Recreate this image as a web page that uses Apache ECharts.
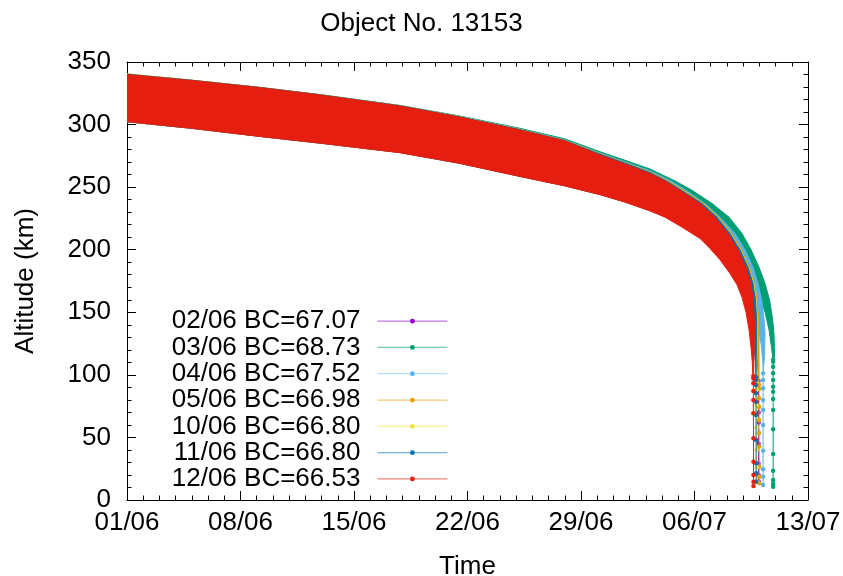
<!DOCTYPE html>
<html>
<head>
<meta charset="utf-8">
<title>Object No. 13153</title>
<script src="https://cdn.jsdelivr.net/npm/echarts@6/dist/echarts.min.js"></script>
<style>
  html, body { margin: 0; padding: 0; background: #ffffff; }
  #chart { width: 843px; height: 576px; }
</style>
</head>
<body>
<div id="chart"></div>
<script>
// Time axis is in days counted from 01/06 00:00.
const xTickLabels = ['01/06', '08/06', '15/06', '22/06', '29/06', '06/07', '13/07'];
const yTickValues = [0, 50, 100, 150, 200, 250, 300, 350];

const runNames = [
  '02/06 BC=67.07',
  '03/06 BC=68.73',
  '04/06 BC=67.52',
  '05/06 BC=66.98',
  '10/06 BC=66.80',
  '11/06 BC=66.80',
  '12/06 BC=66.53'
];
const runColors = ['#9400d3', '#009e73', '#56b4e9', '#e69f00', '#f0e442', '#0072b2', '#e51e10'];

// Apogee (upper) and perigee (lower) envelopes of each run, [day, km],
// followed by the final plunge sampled point by point.
const apogee0206 = [[0, 340.3], [4, 335.4], [8.2, 329.6], [12, 323.6], [16.84, 315.0], [20.5, 306.3], [24.24, 296.2], [27, 287.4], [29.172, 276.7], [30.714, 269.5], [32.256, 262.0], [33.35, 255.0], [34.3, 247.5], [35.53, 237.0], [36.45, 226.0], [37.25, 213.0], [37.87, 200.0], [38.36, 186.0], [38.67, 173.0], [38.83, 160.0], [38.92, 145.0], [38.95, 133.0], [38.95, 115.0], [38.948, 95.0]];
const perigee0206 = [[0, 302.3], [4, 297.0], [8.2, 290.6], [12, 285.1], [16.84, 277.7], [20.5, 269.3], [24.24, 258.7], [27, 251.2], [29.22, 244.0], [30.79, 238.0], [32.36, 231.0], [33.31, 226.0], [34.26, 219.0], [35.52, 209.0], [36.14, 201.0], [36.76, 192.0], [37.39, 181.0], [37.84, 172.0], [38.18, 162.0], [38.45, 150.0], [38.66, 136.0], [38.8, 122.0], [38.9, 110.0], [38.94, 95.0]];
const descent0206 = [[38.948, 95.0], [38.95, 70.0], [38.95, 62.0], [38.95, 45.0], [38.95, 29.0], [38.95, 20.0], [38.95, 15.0]];

const apogee0306 = [[0, 340.1], [4, 335.3], [8.2, 329.7], [12, 323.8], [16.84, 315.3], [20.5, 306.9], [24.24, 297.0], [27, 288.6], [29.172, 278.3], [30.714, 271.5], [32.256, 264.5], [33.798, 255.0], [34.846, 247.5], [36.08, 237.0], [37.128, 226.0], [37.93, 213.0], [38.486, 200.0], [38.979, 186.0], [39.349, 173.0], [39.627, 160.0], [39.812, 145.0], [39.904, 133.0], [39.935, 115.0], [39.88, 112.0]];
const perigee0306 = [[0, 302.3], [4, 297.2], [8.2, 290.9], [12, 285.6], [16.84, 278.3], [20.5, 270.2], [24.24, 260.0], [27, 252.8], [29.481, 244.0], [31.146, 238.0], [32.749, 231.0], [33.736, 226.0], [34.785, 219.0], [36.142, 209.0], [36.82, 201.0], [37.498, 192.0], [38.177, 181.0], [38.671, 172.0], [39.04, 162.0], [39.349, 150.0], [39.596, 136.0], [39.75, 122.0], [39.843, 112.0]];
const descent0306 = [[39.85, 112.0], [39.85, 110.5], [39.85, 106.5], [39.85, 101.2], [39.85, 95.9], [39.85, 90.5], [39.85, 86.6], [39.85, 80.7], [39.85, 71.9], [39.85, 56.5], [39.85, 36.8], [39.85, 23.4], [39.85, 16.0], [39.85, 12.8], [39.85, 10.6]];

const apogee0406 = [[0, 340.1], [4, 335.3], [8.2, 329.6], [12, 323.7], [16.84, 315.1], [20.5, 306.5], [24.24, 296.5], [27, 287.9], [29.172, 277.3], [30.714, 270.2], [32.256, 263.0], [33.551, 255.0], [34.476, 247.5], [35.649, 237.0], [36.573, 226.0], [37.498, 213.0], [38.115, 200.0], [38.609, 186.0], [38.918, 173.0], [39.145, 160.0], [39.287, 145.0], [39.349, 133.0], [39.318, 115.0], [39.225, 101.0]];
const perigee0406 = [[0, 302.3], [4, 297.1], [8.2, 290.7], [12, 285.3], [16.84, 277.9], [20.5, 269.6], [24.24, 259.2], [27, 251.8], [29.296, 244.0], [30.899, 238.0], [32.502, 231.0], [33.459, 226.0], [34.414, 219.0], [35.71, 209.0], [36.357, 201.0], [37.005, 192.0], [37.683, 181.0], [38.146, 172.0], [38.473, 162.0], [38.763, 150.0], [38.979, 136.0], [39.133, 122.0], [39.213, 110.0], [39.238, 101.0]];
const descent0406 = [[39.23, 101.2], [39.23, 95.9], [39.23, 89.2], [39.23, 79.9], [39.23, 71.9], [39.23, 59.9], [39.23, 39.4], [39.23, 24.5], [39.23, 18.6], [39.23, 12.0]];

const apogee0506 = [[0, 340.5], [4, 335.5], [8.2, 329.7], [12, 323.7], [16.84, 315.1], [20.5, 306.4], [24.24, 296.2], [27, 287.5], [29.172, 276.8], [30.714, 269.6], [32.256, 262.2], [33.366, 255.0], [34.322, 247.5], [35.556, 237.0], [36.481, 226.0], [37.282, 213.0], [37.899, 200.0], [38.393, 186.0], [38.702, 173.0], [38.856, 160.0], [38.948, 145.0], [38.979, 133.0], [38.979, 115.0], [38.979, 92.0]];
const perigee0506 = [[0, 302.3], [4, 297.0], [8.2, 290.6], [12, 285.1], [16.84, 277.7], [20.5, 269.3], [24.24, 258.8], [27, 251.3], [29.234, 244.0], [30.806, 238.0], [32.379, 231.0], [33.335, 226.0], [34.291, 219.0], [35.556, 209.0], [36.173, 201.0], [36.789, 192.0], [37.418, 181.0], [37.868, 172.0], [38.208, 162.0], [38.473, 150.0], [38.683, 136.0], [38.825, 122.0], [38.918, 110.0], [38.967, 92.0]];
const descent0506 = [[38.979, 92.0], [38.98, 88.6], [38.98, 81.3], [38.98, 74.5], [38.98, 63.9], [38.98, 53.5], [38.99, 42.6], [38.99, 26.6], [38.99, 18.6], [38.99, 13.3]];

const apogee1006 = [[0, 340.5], [4, 335.5], [8.2, 329.6], [12, 323.6], [16.84, 315.0], [20.5, 306.2], [24.24, 296.0], [27, 287.2], [29.172, 276.4], [30.714, 269.2], [32.256, 261.8], [33.3, 255.0], [34.23, 247.5], [35.49, 237.0], [36.42, 226.0], [37.22, 213.0], [37.836, 200.0], [38.33, 186.0], [38.64, 173.0], [38.793, 160.0], [38.855, 145.0], [38.855, 133.0], [38.84, 115.0], [38.825, 94.0]];
const perigee1006 = [[0, 302.3], [4, 297.0], [8.2, 290.5], [12, 285.0], [16.84, 277.6], [20.5, 269.1], [24.24, 258.6], [27, 251.1], [29.22, 244.0], [30.79, 238.0], [32.34, 231.0], [33.3, 226.0], [34.23, 219.0], [35.49, 209.0], [36.11, 201.0], [36.726, 192.0], [37.343, 181.0], [37.806, 172.0], [38.145, 162.0], [38.392, 150.0], [38.577, 136.0], [38.7, 122.0], [38.793, 110.0], [38.82, 94.0]];
const descent1006 = [[38.825, 94.0], [38.825, 88.0], [38.825, 76.0], [38.83, 58.0], [38.83, 40.0], [38.83, 26.0], [38.83, 15.0]];

const apogee1106 = [[0, 340.2], [4, 335.4], [8.2, 329.6], [12, 323.6], [16.84, 315.0], [20.5, 306.2], [24.24, 296.0], [27, 287.2], [29.172, 276.4], [30.714, 269.2], [32.256, 261.7], [33.273, 255.0], [34.199, 247.5], [35.463, 237.0], [36.388, 226.0], [37.19, 213.0], [37.806, 200.0], [38.3, 186.0], [38.609, 173.0], [38.763, 160.0], [38.825, 145.0], [38.825, 133.0], [38.81, 115.0], [38.794, 98.0]];
const perigee1106 = [[0, 302.3], [4, 297.0], [8.2, 290.5], [12, 285.0], [16.84, 277.6], [20.5, 269.1], [24.24, 258.6], [27, 251.1], [29.203, 244.0], [30.776, 238.0], [32.318, 231.0], [33.273, 226.0], [34.199, 219.0], [35.463, 209.0], [36.08, 201.0], [36.696, 192.0], [37.313, 181.0], [37.776, 172.0], [38.115, 162.0], [38.362, 150.0], [38.547, 136.0], [38.671, 122.0], [38.763, 110.0], [38.794, 98.0]];
const descent1106 = [[38.794, 98.0], [38.794, 95.9], [38.794, 91.9], [38.794, 85.3], [38.794, 78.6], [38.794, 67.9], [38.8, 47.9], [38.8, 29.3], [38.8, 21.3], [38.8, 14.6]];

const apogee1206 = [[0, 340.0], [4, 335.2], [8.2, 329.5], [12, 323.5], [16.84, 314.8], [20.5, 306.0], [24.24, 295.7], [27, 287.0], [29.172, 275.7], [30.714, 268.5], [32.256, 261.0], [33.181, 255.0], [34.106, 247.5], [35.34, 237.0], [36.265, 226.0], [37.066, 213.0], [37.683, 200.0], [38.177, 186.0], [38.486, 173.0], [38.628, 160.0], [38.689, 145.0], [38.689, 133.0], [38.671, 115.0], [38.64, 99.0]];
const perigee1206 = [[0, 302.3], [4, 297.0], [8.2, 290.5], [12, 285.0], [16.84, 277.5], [20.5, 269.0], [24.24, 258.5], [27, 251.0], [29.172, 244.0], [30.714, 238.0], [32.256, 231.0], [33.181, 226.0], [34.106, 219.0], [35.34, 209.0], [35.957, 201.0], [36.573, 192.0], [37.19, 181.0], [37.622, 172.0], [37.93, 162.0], [38.177, 150.0], [38.362, 136.0], [38.486, 122.0], [38.566, 110.0], [38.6, 99.0]];
const descent1206 = [[38.63, 99.0], [38.63, 97.2], [38.63, 93.2], [38.63, 87.1], [38.63, 79.9], [38.63, 69.3], [38.64, 49.3], [38.64, 30.6], [38.64, 20.0], [38.64, 14.6], [38.64, 11.2]];

const apogees = [apogee0206, apogee0306, apogee0406, apogee0506, apogee1006, apogee1106, apogee1206];
const perigees = [perigee0206, perigee0306, perigee0406, perigee0506, perigee1006, perigee1106, perigee1206];
const descents = [descent0206, descent0306, descent0406, descent0506, descent1006, descent1106, descent1206];

const FONT = '"Liberation Sans", Arial, Helvetica, sans-serif';
const FONT_SIZE = 26;

// Orbit band: the area swept between perigee and apogee, as one polygon.
function bandRenderer(upper, lower, color) {
  return function (params, api) {
    const pts = upper.concat(lower.slice().reverse()).map(function (p) { return api.coord(p); });
    return {
      type: 'polygon',
      shape: { points: pts },
      style: { fill: color, stroke: color, lineWidth: 1 }
    };
  };
}

const series = [];
runNames.forEach(function (name, i) {
  series.push({
    type: 'custom',
    name: 'band ' + name,
    xAxisIndex: 0,
    yAxisIndex: 0,
    renderItem: bandRenderer(apogees[i], perigees[i], runColors[i]),
    data: [[0, 0]],
    z: 2 + i * 2,
    silent: true,
    clip: true
  });
  series.push({
    type: 'line',
    name: name,
    xAxisIndex: 0,
    yAxisIndex: 0,
    data: descents[i],
    color: runColors[i],
    symbol: 'circle',
    symbolSize: 4.5,
    showAllSymbol: true,
    lineStyle: { width: 1, color: runColors[i] },
    itemStyle: { color: runColors[i] },
    z: 3 + i * 2,
    silent: true,
    clip: true
  });
});

const axisCommon = {
  axisLine: { show: true, onZero: false, lineStyle: { color: '#000', width: 1 } },
  axisTick: { show: true, inside: true, length: 9, lineStyle: { color: '#000', width: 1 } },
  minorTick: { show: true, length: 4.5, lineStyle: { color: '#000', width: 1 } },
  splitLine: { show: false }
};

const chart = echarts.init(document.getElementById('chart'), null, { renderer: 'canvas' });
chart.setOption({
  animation: false,
  backgroundColor: '#ffffff',
  textStyle: { fontFamily: FONT },
  title: {
    text: 'Object No. 13153',
    left: 'center',
    top: 6,
    textStyle: { fontFamily: FONT, fontSize: FONT_SIZE, fontWeight: 'normal', color: '#000' }
  },
  grid: { left: 127, right: 35, top: 62, bottom: 76, containLabel: false, outerBoundsMode: 'none' },
  legend: {
    data: runNames,
    orient: 'vertical',
    right: 390,
    top: 303,
    align: 'right',
    itemWidth: 70,
    itemHeight: 6,
    itemGap: 0,
    selectedMode: false,
    lineStyle: { width: 1.2, opacity: 0.55 },
    textStyle: { fontFamily: FONT, fontSize: FONT_SIZE, color: '#000', lineHeight: 26.3, padding: [0, 12, 0, 0] }
  },
  xAxis: [
    Object.assign({}, axisCommon, {
      type: 'value',
      position: 'bottom',
      min: 0, max: 42, interval: 7,
      minorTick: Object.assign({}, axisCommon.minorTick, { splitNumber: 7 }),
      axisLabel: {
        show: true, margin: 10, color: '#000', fontFamily: FONT, fontSize: FONT_SIZE,
        formatter: function (v) { return xTickLabels[Math.round(v / 7)]; }
      },
      name: 'Time',
      nameLocation: 'middle',
      nameGap: 54,
      nameTextStyle: { fontFamily: FONT, fontSize: FONT_SIZE, color: '#000' }
    }),
    Object.assign({}, axisCommon, {
      type: 'value',
      position: 'top',
      min: 0, max: 42, interval: 7,
      minorTick: Object.assign({}, axisCommon.minorTick, { splitNumber: 7 }),
      axisLabel: { show: false }
    })
  ],
  yAxis: [
    Object.assign({}, axisCommon, {
      type: 'value',
      position: 'left',
      min: yTickValues[0], max: yTickValues[yTickValues.length - 1], interval: 50,
      minorTick: Object.assign({}, axisCommon.minorTick, { splitNumber: 5 }),
      axisLabel: { show: true, margin: 16, color: '#000', fontFamily: FONT, fontSize: FONT_SIZE },
      name: 'Altitude (km)',
      nameLocation: 'middle',
      nameGap: 88,
      nameTextStyle: { fontFamily: FONT, fontSize: FONT_SIZE, color: '#000' }
    }),
    Object.assign({}, axisCommon, {
      type: 'value',
      position: 'right',
      min: 0, max: 350, interval: 50,
      minorTick: Object.assign({}, axisCommon.minorTick, { splitNumber: 5 }),
      axisLabel: { show: false }
    })
  ],
  series: series
});
</script>
</body>
</html>
